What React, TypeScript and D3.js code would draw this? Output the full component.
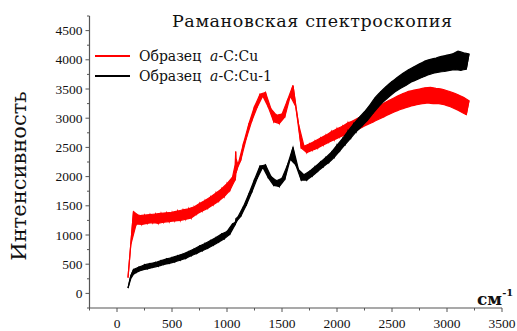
import { area, line, scaleLinear, range } from "d3";

// wavenumber grid, cm^-1 (extra samples around the narrow spike near 1080)
const wavenumbers = [
  100, 125, 150, 175, 200, 225, 250, 275, 300, 325, 350, 375, 400, 425, 450, 475,
  500, 525, 550, 575, 600, 625, 650, 675, 700, 725, 750, 775, 800, 825, 850, 875,
  900, 925, 950, 975, 1000, 1025, 1050, 1075, 1079, 1081, 1100, 1125, 1150, 1175,
  1200, 1225, 1250, 1275, 1300, 1325, 1350, 1375, 1400, 1425, 1450, 1475, 1500,
  1525, 1550, 1575, 1600, 1625, 1650, 1675, 1700, 1725, 1750, 1775, 1800, 1825,
  1850, 1875, 1900, 1925, 1950, 1975, 2000, 2025, 2050, 2075, 2100, 2125, 2150,
  2175, 2200, 2225, 2250, 2275, 2300, 2325, 2350, 2375, 2400, 2425, 2450, 2475,
  2500, 2525, 2550, 2575, 2600, 2625, 2650, 2675, 2700, 2725, 2750, 2775, 2800,
  2825, 2850, 2875, 2900, 2925, 2950, 2975, 3000, 3025, 3050, 3075, 3100, 3125,
  3150, 3175, 3200,
];

// a-C:Cu
const redValues = [
  270, 830, 1400, 1190, 1330, 1180, 1340, 1200, 1350, 1210, 1360, 1200, 1370, 1220, 1380, 1230,
  1390, 1240, 1410, 1250, 1430, 1270, 1450, 1290, 1480, 1360, 1540, 1410, 1590, 1460, 1650, 1520,
  1720, 1580, 1790, 1660, 1880, 1760, 1990, 1950, 2430, 2060, 2200, 2280, 2570, 2650,
  2910, 2950, 3200, 3190, 3410, 3380, 3440, 3190, 3160, 2940, 3050, 2910, 3070,
  3020, 3310, 3380, 3560, 3200, 2900, 2490, 2520, 2410, 2560, 2450, 2610, 2490,
  2660, 2540, 2710, 2590, 2770, 2630, 2820, 2680, 2860, 2710, 2920, 2760, 2960,
  2790, 3010, 2840, 3070, 2890, 3120, 2930, 3180, 2980, 3230, 3020, 3280, 3070,
  3330, 3110, 3380, 3150, 3420, 3180, 3460, 3210, 3480, 3230, 3500, 3250, 3520,
  3260, 3530, 3250, 3510, 3250, 3500, 3230, 3470, 3200, 3440, 3160, 3400, 3110,
  3360, 3060, 3300,
];

// a-C:Cu-1
const blackValues = [
  90, 300, 410, 360, 450, 400, 490, 420, 510, 445, 530, 465, 560, 495, 590, 515,
  615, 540, 645, 570, 675, 600, 715, 645, 760, 685, 810, 730, 855, 775, 905, 825,
  955, 880, 1015, 935, 1060, 1010, 1190, 1180, 1250, 1210, 1310, 1320, 1490, 1510,
  1710, 1730, 1950, 1970, 2180, 2160, 2200, 1980, 2000, 1850, 1930, 1830, 1970,
  1950, 2200, 2300, 2500, 2200, 2120, 1940, 2030, 1940, 2090, 2010, 2170, 2090,
  2250, 2170, 2330, 2240, 2420, 2330, 2540, 2440, 2650, 2550, 2780, 2660, 2900,
  2770, 3010, 2860, 3110, 2960, 3230, 3080, 3360, 3190, 3460, 3290, 3550, 3370,
  3630, 3450, 3700, 3510, 3770, 3560, 3830, 3620, 3880, 3660, 3930, 3700, 3980,
  3740, 4010, 3770, 4030, 3790, 4060, 3800, 4080, 3820, 4100, 3830, 4150, 3820,
  4120, 3840, 4100,
];

const seriesNames = ["a-C:Cu", "a-C:Cu-1"];
const seriesColors = ["#ff0000", "#000000"];
const xTicks = [0, 500, 1000, 1500, 2000, 2500, 3000, 3500];
const yTicks = [0, 500, 1000, 1500, 2000, 2500, 3000, 3500, 4000, 4500];

// local centre and spread of the noisy trace, used to paint it as a dense band
function band(vals: number[]) {
  return vals.map((v, i) => {
    if (i === 0 || i === vals.length - 1) return { lo: v, hi: v };
    const nb = (vals[i - 1] + vals[i + 1]) / 2;
    const mid = (v + nb) / 2;
    const half = Math.abs(v - nb) / 2;
    return { lo: mid - half, hi: mid + half };
  });
}

export default function App() {
  const width = 517;
  const height = 331;
  const plot = { left: 89.5, right: 502, top: 16, bottom: 308 };

  const x = scaleLinear().domain([-250, 3500]).range([plot.left, plot.right]);
  const y = scaleLinear().domain([-250, 4750]).range([plot.bottom, plot.top]);

  const xMinor = range(-250, 3501, 250).filter((v) => !xTicks.includes(v));
  const yMinor = range(-250, 4751, 250).filter((v) => !yTicks.includes(v));

  const seriesData = [redValues, blackValues];
  const path = line<number>()
    .x((_, i) => x(wavenumbers[i]))
    .y((d) => y(d));
  const bandPath = area<{ lo: number; hi: number }>()
    .x((_, i) => x(wavenumbers[i]))
    .y0((d) => y(d.lo))
    .y1((d) => y(d.hi));

  const axisColor = "#555";
  const tickFont = "'Liberation Serif', 'Times New Roman', serif";
  const textFont = "'DejaVu Serif', serif";

  return (
    <svg
      width={width}
      height={height}
      style={{ position: "absolute", left: 0, top: 0, background: "#fff" }}
    >
      {seriesData.map((vals, si) => (
        <g key={si}>
          <path d={bandPath(band(vals)) ?? ""} fill={seriesColors[si]} stroke={seriesColors[si]} strokeWidth={1.2} />
          <path d={path(vals) ?? ""} fill="none" stroke={seriesColors[si]} strokeWidth={1.2} />
        </g>
      ))}

      {/* axes */}
      <line x1={plot.left} y1={plot.top} x2={plot.left} y2={plot.bottom} stroke={axisColor} strokeWidth={1.2} />
      <line x1={plot.left} y1={plot.bottom} x2={plot.right} y2={plot.bottom} stroke={axisColor} strokeWidth={1.2} />

      {yTicks.map((t) => (
        <g key={`y${t}`}>
          <line x1={plot.left - 4} x2={plot.left} y1={y(t)} y2={y(t)} stroke={axisColor} />
          <text x={plot.left - 7} y={y(t) + 4.5} textAnchor="end" fontFamily={tickFont} fontSize={13.5} fill="#111">
            {t}
          </text>
        </g>
      ))}
      {yMinor.map((t) => (
        <line key={`ym${t}`} x1={plot.left - 2.5} x2={plot.left} y1={y(t)} y2={y(t)} stroke={axisColor} />
      ))}

      {xTicks.map((t) => (
        <g key={`x${t}`}>
          <line x1={x(t)} x2={x(t)} y1={plot.bottom} y2={plot.bottom + 4} stroke={axisColor} />
          <text x={x(t)} y={plot.bottom + 20} textAnchor="middle" fontFamily={tickFont} fontSize={13.5} fill="#111">
            {t}
          </text>
        </g>
      ))}
      {xMinor.map((t) => (
        <line key={`xm${t}`} x1={x(t)} x2={x(t)} y1={plot.bottom} y2={plot.bottom + 2.5} stroke={axisColor} />
      ))}

      {/* title */}
      <text x={312} y={27} textAnchor="middle" fontFamily={textFont} fontSize={17.5} fill="#111" textLength={280}>
        Рамановская спектроскопия
      </text>

      {/* legend */}
      {seriesNames.map((name, i) => (
        <g key={name} transform={`translate(95, ${56 + i * 20})`}>
          <line x1={0} x2={35} y1={0} y2={0} stroke={seriesColors[i]} strokeWidth={2.2} />
          <text x={44} y={5} fontFamily={textFont} fontSize={14} fill="#111">
            Образец{"\u00a0\u00a0"}
            <tspan fontStyle="italic">{name.slice(0, 1)}</tspan>
            {name.slice(1)}
          </text>
        </g>
      ))}

      {/* y label */}
      <text
        transform={`translate(26, 176) rotate(-90)`}
        textAnchor="middle"
        fontFamily={textFont}
        fontSize={21}
        fill="#111"
      >
        Интенсивность
      </text>

      {/* x unit */}
      <text x={477} y={305} fontFamily={textFont} fontSize={17} fontWeight="bold" fill="#111">
        см
        <tspan fontSize={10} dy={-9}>-1</tspan>
      </text>
    </svg>
  );
}
